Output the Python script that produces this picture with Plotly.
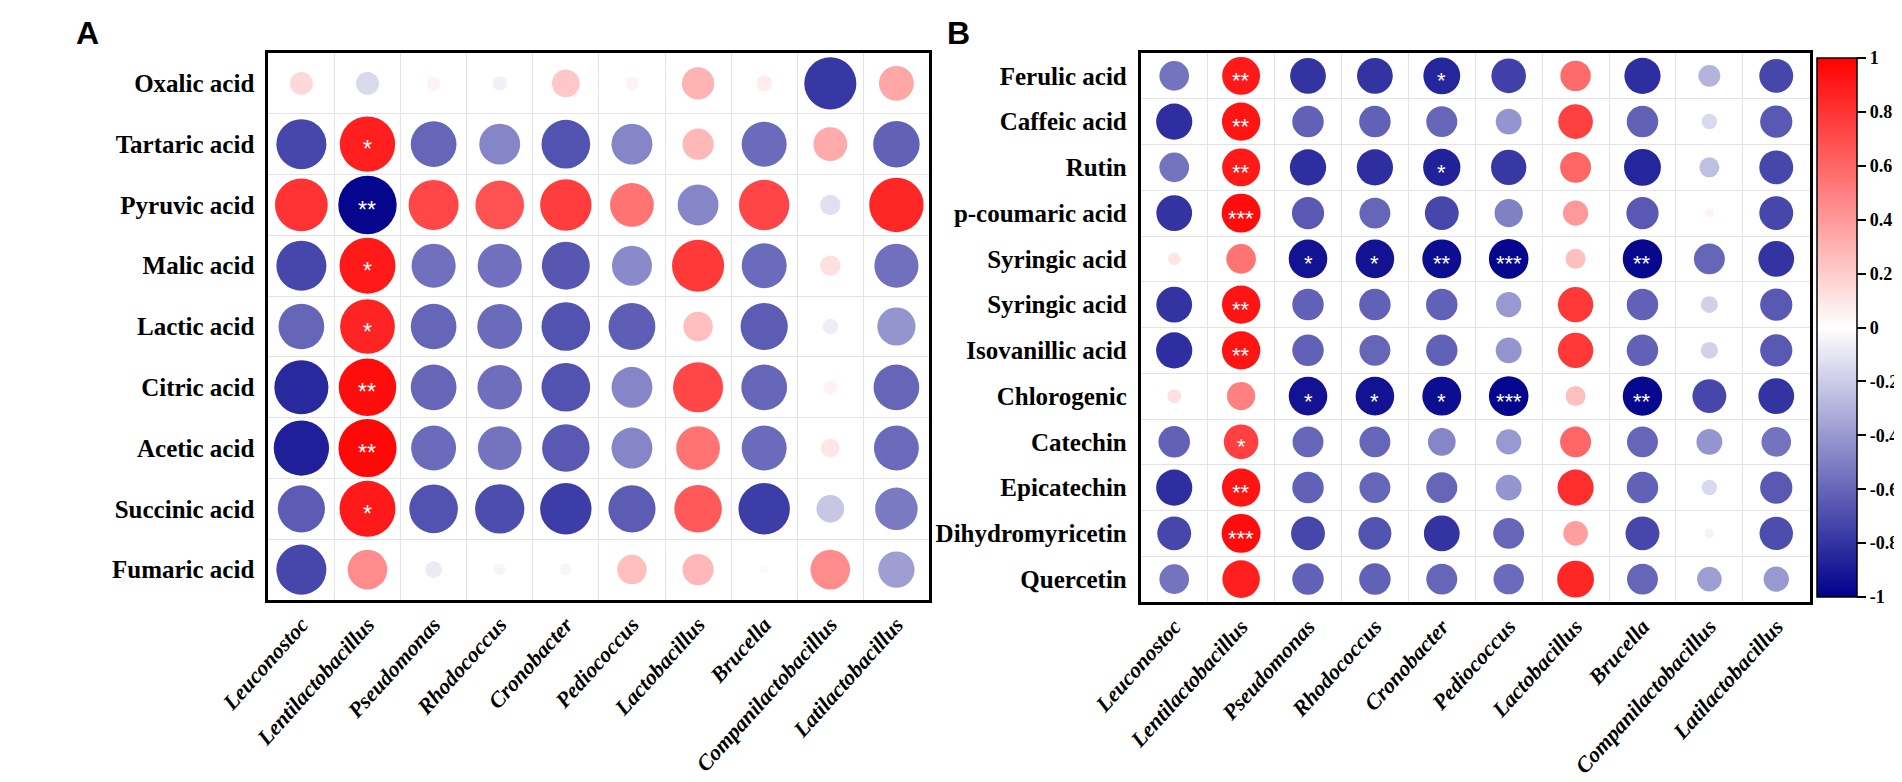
import numpy as np
import plotly.graph_objects as go

genera = ["Leuconostoc", "Lentilactobacillus", "Pseudomonas", "Rhodococcus", "Cronobacter",
          "Pediococcus", "Lactobacillus", "Brucella", "Companilactobacillus", "Latilactobacillus"]

acids_A = ["Oxalic acid", "Tartaric acid", "Pyruvic acid", "Malic acid", "Lactic acid",
           "Citric acid", "Acetic acid", "Succinic acid", "Fumaric acid"]

vals_A = [
    [0.15, -0.15, 0.05, -0.06, 0.22, 0.05, 0.30, 0.07, -0.78, 0.35],
    [-0.72, 0.88, -0.60, -0.48, -0.68, -0.48, 0.28, -0.58, 0.33, -0.62],
    [0.80, -0.98, 0.72, 0.68, 0.76, 0.55, -0.48, 0.73, -0.12, 0.85],
    [-0.72, 0.90, -0.56, -0.56, -0.66, -0.46, 0.78, -0.58, 0.12, -0.56],
    [-0.60, 0.86, -0.60, -0.58, -0.68, -0.63, 0.25, -0.64, -0.07, -0.42],
    [-0.84, 0.95, -0.60, -0.57, -0.68, -0.48, 0.72, -0.60, 0.05, -0.60],
    [-0.88, 0.97, -0.58, -0.55, -0.65, -0.48, 0.55, -0.58, 0.10, -0.58],
    [-0.64, 0.90, -0.68, -0.70, -0.76, -0.64, 0.65, -0.76, -0.22, -0.52],
    [-0.72, 0.45, -0.08, -0.04, -0.04, 0.25, 0.28, -0.02, 0.45, -0.38],
]
sig_A = [
    ["", "", "", "", "", "", "", "", "", ""],
    ["", "*", "", "", "", "", "", "", "", ""],
    ["", "**", "", "", "", "", "", "", "", ""],
    ["", "*", "", "", "", "", "", "", "", ""],
    ["", "*", "", "", "", "", "", "", "", ""],
    ["", "**", "", "", "", "", "", "", "", ""],
    ["", "**", "", "", "", "", "", "", "", ""],
    ["", "*", "", "", "", "", "", "", "", ""],
    ["", "", "", "", "", "", "", "", "", ""],
]

phenolics_B = ["Ferulic acid", "Caffeic acid", "Rutin", "p-coumaric acid", "Syringic acid",
               "Syringic acid", "Isovanillic acid", "Chlorogenic", "Catechin", "Epicatechin",
               "Dihydromyricetin", "Quercetin"]

vals_B = [
    [-0.55, 0.90, -0.80, -0.80, -0.85, -0.75, 0.58, -0.82, -0.30, -0.72],
    [-0.82, 0.92, -0.62, -0.62, -0.60, -0.42, 0.75, -0.62, -0.15, -0.65],
    [-0.55, 0.90, -0.82, -0.82, -0.87, -0.78, 0.60, -0.85, -0.25, -0.72],
    [-0.80, 0.95, -0.65, -0.60, -0.72, -0.50, 0.40, -0.65, 0.05, -0.72],
    [0.10, 0.55, -0.93, -0.93, -0.95, -0.98, 0.25, -0.97, -0.60, -0.80],
    [-0.80, 0.92, -0.62, -0.62, -0.62, -0.40, 0.78, -0.62, -0.18, -0.65],
    [-0.82, 0.92, -0.62, -0.60, -0.62, -0.42, 0.78, -0.62, -0.18, -0.65],
    [0.12, 0.50, -0.93, -0.93, -0.95, -0.98, 0.25, -0.97, -0.72, -0.80],
    [-0.62, 0.75, -0.60, -0.60, -0.48, -0.40, 0.60, -0.60, -0.42, -0.55],
    [-0.82, 0.92, -0.62, -0.60, -0.60, -0.42, 0.82, -0.62, -0.15, -0.65],
    [-0.72, 0.95, -0.72, -0.68, -0.80, -0.60, 0.38, -0.72, -0.05, -0.70],
    [-0.55, 0.88, -0.62, -0.62, -0.60, -0.58, 0.85, -0.60, -0.38, -0.40],
]
sig_B = [
    ["", "**", "", "", "*", "", "", "", "", ""],
    ["", "**", "", "", "", "", "", "", "", ""],
    ["", "**", "", "", "*", "", "", "", "", ""],
    ["", "***", "", "", "", "", "", "", "", ""],
    ["", "", "*", "*", "**", "***", "", "**", "", ""],
    ["", "**", "", "", "", "", "", "", "", ""],
    ["", "**", "", "", "", "", "", "", "", ""],
    ["", "", "*", "*", "*", "***", "", "**", "", ""],
    ["", "*", "", "", "", "", "", "", "", ""],
    ["", "**", "", "", "", "", "", "", "", ""],
    ["", "***", "", "", "", "", "", "", "", ""],
    ["", "", "", "", "", "", "", "", "", ""],
]

cbar_vals = [-1, -0.8, -0.6, -0.4, -0.2, 0, 0.2, 0.4, 0.6, 0.8, 1]
cbar_text = ["-1", "-0.8", "-0.6", "-0.4", "-0.2", "0", "0.2", "0.4", "0.6", "0.8", "1"]

colorscale = [[0.0, "rgb(0,0,139)"], [0.5, "rgb(255,255,255)"], [1.0, "rgb(255,0,0)"]]
serif = "Times New Roman, Liberation Serif, serif"

W, H = 1902, 782
# pixel layout of the two panels
pA = dict(x0=216, x1=895, y0=45, y1=592, dmax=59)
pB = dict(x0=1112, x1=1799, y0=45, y1=594, dmax=40)

fig = go.Figure()
annotations = []


def add_panel(vals, sig, xa, ya, dmax, showscale, star_size):
    xs, ys, cs, ss = [], [], [], []
    for i, row in enumerate(vals):
        for j, v in enumerate(row):
            xs.append(j)
            ys.append(i)
            cs.append(v)
            ss.append(dmax * np.sqrt(abs(v)))
            if sig[i][j]:
                annotations.append(dict(
                    x=j, y=i, xref=xa, yref=ya,
                    text=sig[i][j], showarrow=False, yshift=-5,
                    font=dict(family="Arial, Liberation Sans", size=star_size, color="white")))
    fig.add_trace(go.Scatter(
        x=xs, y=ys, mode="markers", xaxis=xa, yaxis=ya,
        marker=dict(size=ss, color=cs, colorscale=colorscale, cmin=-1, cmax=1,
                    line=dict(width=0), opacity=1,
                    showscale=showscale,
                    colorbar=dict(
                        thickness=40, len=(589 - 50) / H, lenmode="fraction",
                        x=1806 / W, xanchor="left", xpad=0, ypad=0,
                        y=1 - 50 / H, yanchor="top",
                        outlinecolor="black", outlinewidth=1.5,
                        ticks="outside", ticklen=9, tickwidth=1.5, tickcolor="black",
                        tickvals=cbar_vals, ticktext=cbar_text,
                        tickfont=dict(family=serif, size=18, color="black", weight="bold"),
                    )),
        showlegend=False, hoverinfo="skip"))


add_panel(vals_A, sig_A, "x", "y", pA["dmax"], False, 23)
add_panel(vals_B, sig_B, "x2", "y2", pB["dmax"], True, 22)


def axis_common():
    return dict(showline=True, mirror=True, linecolor="black", linewidth=3,
                showgrid=False, zeroline=False, ticks="", fixedrange=True)


for k, (p, rows) in enumerate([(pA, acids_A), (pB, phenolics_B)]):
    sfx = "" if k == 0 else "2"
    xa = axis_common()
    xa.update(domain=[p["x0"] / W, p["x1"] / W], range=[-0.5, 9.5],
              tickmode="array", tickvals=list(range(len(genera))), ticktext=genera,
              tickangle=-48,
              tickfont=dict(family=serif, size=22, color="black", weight="bold", style="italic"),
              minor=dict(tickmode="linear", tick0=0.5, dtick=1, showgrid=True,
                         gridcolor="#e3e3e3", gridwidth=1, ticks=""),
              anchor="y" + sfx)
    ya = axis_common()
    ya.update(domain=[1 - p["y1"] / H, 1 - p["y0"] / H], range=[len(rows) - 0.5, -0.5],
              tickmode="array", tickvals=list(range(len(rows))), ticktext=rows,
              tickfont=dict(family=serif, size=25, color="black", weight="bold"),
              ticklabelstandoff=6,
              minor=dict(tickmode="linear", tick0=0.5, dtick=1, showgrid=True,
                         gridcolor="#e3e3e3", gridwidth=1, ticks=""),
              anchor="x" + sfx)
    fig.update_layout(**{"xaxis" + sfx: xa, "yaxis" + sfx: ya})

annotations.append(dict(x=30 / W, y=1 - 25 / H, xref="paper", yref="paper", text="<b>A</b>",
                        showarrow=False, xanchor="center", yanchor="middle",
                        font=dict(family="Arial, Liberation Sans", size=32, color="black")))
annotations.append(dict(x=925 / W, y=1 - 25 / H, xref="paper", yref="paper", text="<b>B</b>",
                        showarrow=False, xanchor="center", yanchor="middle",
                        font=dict(family="Arial, Liberation Sans", size=32, color="black")))

fig.update_layout(width=W, height=H, margin=dict(l=0, r=0, t=0, b=0),
                  paper_bgcolor="white", plot_bgcolor="white",
                  annotations=annotations)

fig.write_html("out.html")
